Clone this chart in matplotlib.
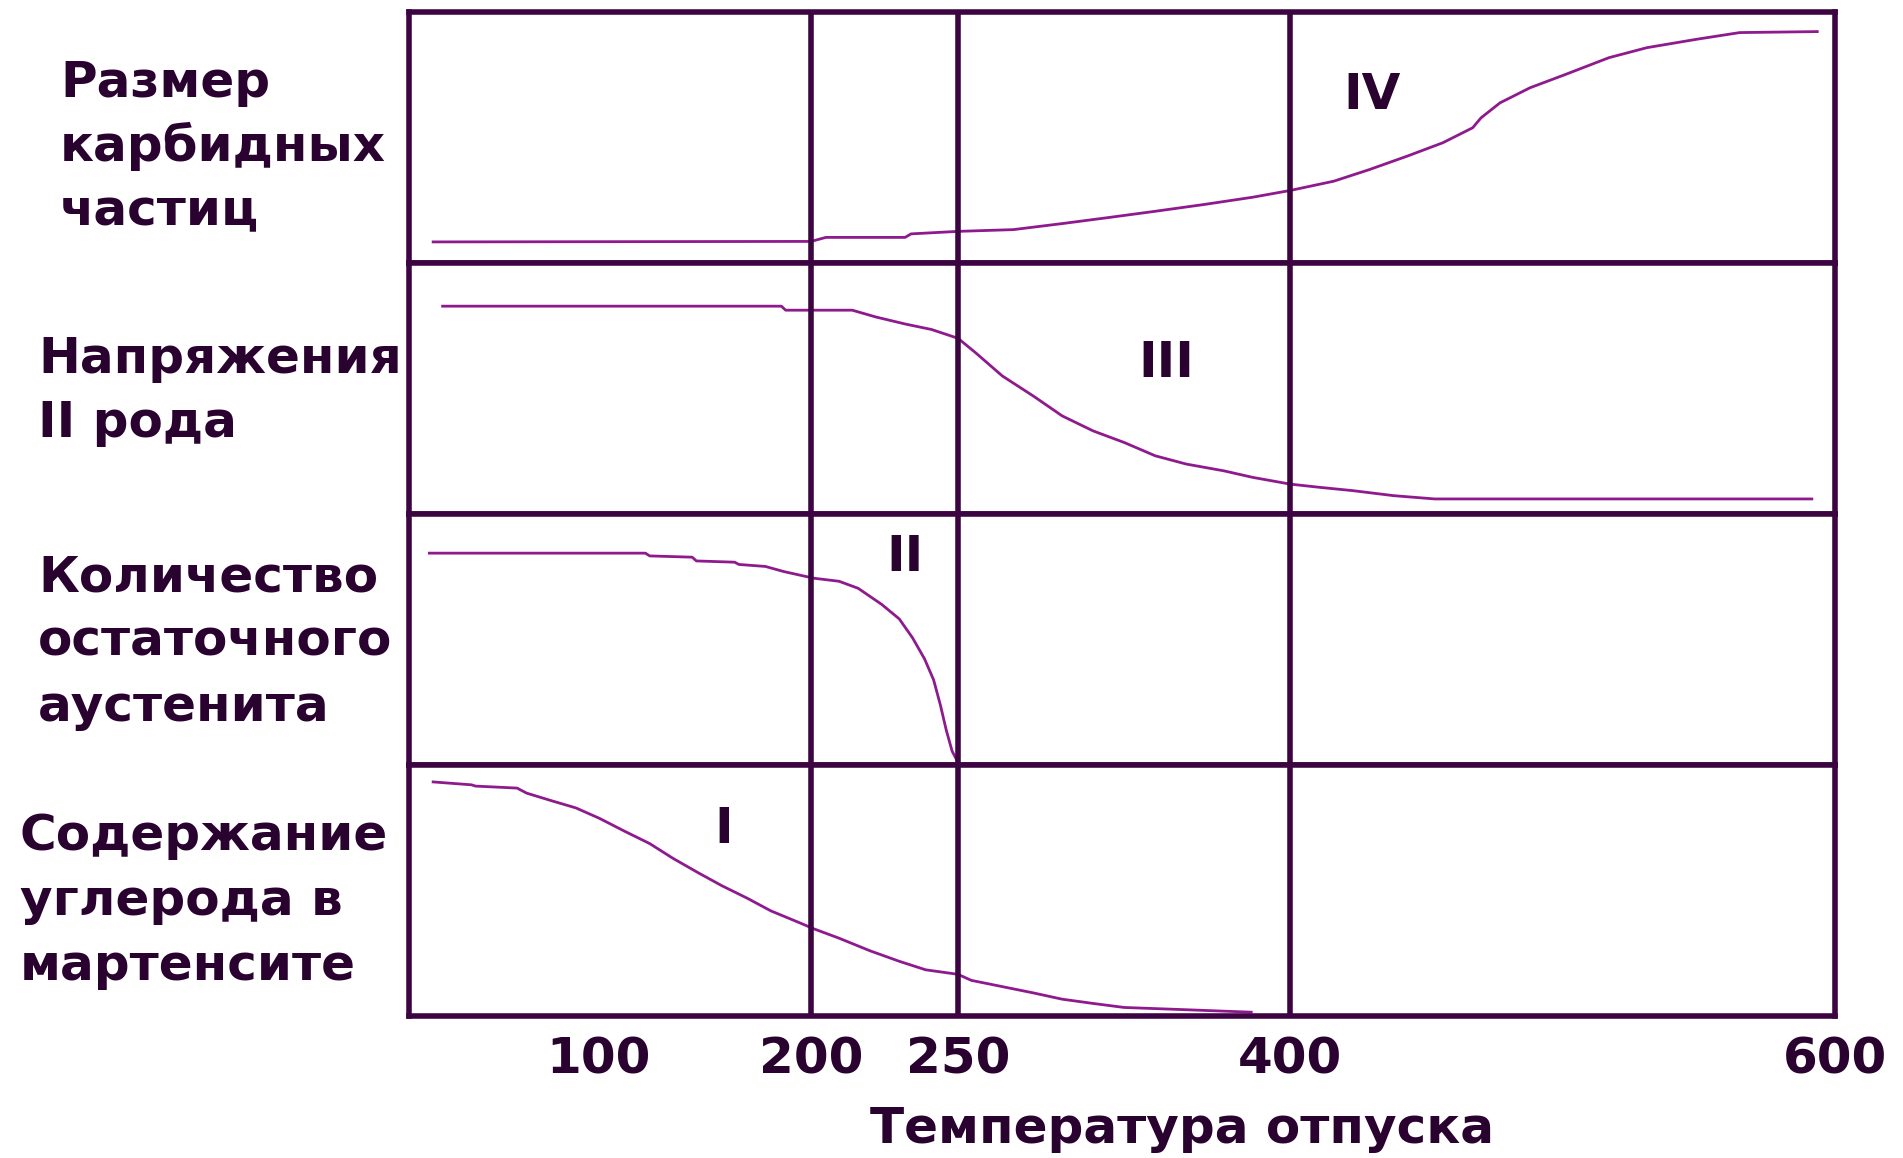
import numpy as np
import matplotlib
matplotlib.use("Agg")
import matplotlib.pyplot as plt

# -------------------------------
# DATA
# -------------------------------

# the temperature axis of the original is drawn unevenly:
# these are the temperatures and where they sit along the axis (0..1)
axis_temps = [0, 100, 200, 250, 400, 600]
axis_spots = [0, 0.133, 0.282, 0.385, 0.618, 1.0]

tick_temps = [100, 200, 250, 400, 600]
grid_temps = [200, 250, 400]

row_labels = [
    ["Размер", "карбидных", "частиц"],
    ["Напряжения", "II рода"],
    ["Количество", "остаточного", "аустенита"],
    ["Содержание", "углерода в", "мартенсите"],
]
stage_names = ["IV", "III", "II", "I"]
stage_t = [430, 344, 232, 159]
stage_y = [0.67, 0.60, 0.83, 0.746]

# size of carbide particles
size_t = [12, 200, 205, 232, 234, 250, 275, 297, 317, 339, 361, 383, 400,
          416, 429, 443, 456, 467, 470, 477, 488, 501, 517, 531, 549, 565, 594]
size_y = [0.084, 0.086, 0.102, 0.102, 0.116, 0.126, 0.133, 0.157, 0.180,
          0.206, 0.233, 0.262, 0.289, 0.326, 0.372, 0.426, 0.479, 0.539,
          0.578, 0.638, 0.698, 0.751, 0.818, 0.858, 0.891, 0.918, 0.922]

# second kind stresses
stress_t = [17, 186, 188, 214, 222, 232, 241, 250, 258, 270, 284, 297, 311,
            325, 339, 353, 370, 383, 400, 411, 423, 438, 453, 592]
stress_y = [0.828, 0.828, 0.812, 0.812, 0.785, 0.757, 0.735, 0.700, 0.642,
            0.550, 0.470, 0.391, 0.331, 0.285, 0.232, 0.199, 0.172, 0.146,
            0.119, 0.106, 0.093, 0.073, 0.060, 0.060]

# retained austenite
aust_t = [10, 122, 124, 144, 146, 164, 166, 178.5, 187, 196, 201, 209.5,
          216, 224, 230, 234.5, 238.6, 241.7, 244, 246, 248, 250]
aust_y = [0.844, 0.844, 0.833, 0.828, 0.813, 0.808, 0.799, 0.791, 0.771,
          0.754, 0.744, 0.732, 0.704, 0.640, 0.582, 0.507, 0.423, 0.339,
          0.239, 0.139, 0.055, 0.010]

# carbon in martensite
carb_t = [12, 33, 35, 57, 62, 75, 88, 100.5, 112, 124, 135, 147, 158, 170,
          181, 193, 201, 209.5, 220, 230, 239, 250, 256, 270, 284, 297, 311,
          325, 353, 383]
carb_y = [0.933, 0.921, 0.916, 0.908, 0.888, 0.858, 0.829, 0.787, 0.737,
          0.687, 0.628, 0.570, 0.519, 0.469, 0.419, 0.377, 0.347, 0.310,
          0.260, 0.218, 0.184, 0.166, 0.142, 0.117, 0.092, 0.067, 0.050,
          0.034, 0.025, 0.015]

curves = [(size_t, size_y), (stress_t, stress_y), (aust_t, aust_y), (carb_t, carb_y)]

# -------------------------------
# STYLE
# -------------------------------
FRAME = "#3c0542"
CURVE = "#8e1a8e"
TEXT = "#2a0230"
FS = 36
W, H = 1903, 1158


def fwd(t):
    return np.interp(t, axis_temps, axis_spots)


def inv(p):
    return np.interp(p, axis_spots, axis_temps)


fig = plt.figure(figsize=(W / 100, H / 100), dpi=100)
axes = fig.subplots(4, 1, sharex=True, gridspec_kw=dict(hspace=0))
fig.subplots_adjust(left=409 / W, right=1835 / W, bottom=1 - 1016 / H, top=1 - 12 / H)

for ax, (xs, ys), name, st, sy in zip(axes, curves, stage_names, stage_t, stage_y):
    ax.set_xscale("function", functions=(fwd, inv))
    ax.set_xlim(0, 600)
    ax.set_ylim(0, 1)
    ax.plot(xs, ys, color=CURVE, lw=2.0, solid_capstyle="butt")
    for g in grid_temps:
        ax.axvline(g, color=FRAME, lw=4, zorder=3)
    for s in ax.spines.values():
        s.set_color(FRAME)
        s.set_linewidth(4)
    ax.set_yticks([])
    ax.tick_params(axis="x", length=0)
    ax.text(st, sy, name, ha="center", va="center", fontsize=FS,
            fontweight="bold", color=TEXT)

axes[-1].set_xticks(tick_temps)
axes[-1].set_xticklabels([str(t) for t in tick_temps], fontsize=FS,
                         fontweight="bold", color=TEXT)
axes[-1].tick_params(axis="x", pad=14)

# row captions on the left
label_x = [60, 38, 38, 20]
label_base = [[97, 161, 225], [373, 437], [591, 656, 721], [850, 915, 980]]
for lines, lx, bases in zip(row_labels, label_x, label_base):
    for txt, by in zip(lines, bases):
        fig.text(lx / W, 1 - by / H, txt, ha="left", va="baseline",
                 fontsize=FS, fontweight="bold", color=TEXT)

fig.text(1182 / W, 1 - 1143 / H, "Температура отпуска", ha="center",
         va="baseline", fontsize=FS, fontweight="bold", color=TEXT)

fig.savefig("out.png", dpi=100, facecolor="white")
